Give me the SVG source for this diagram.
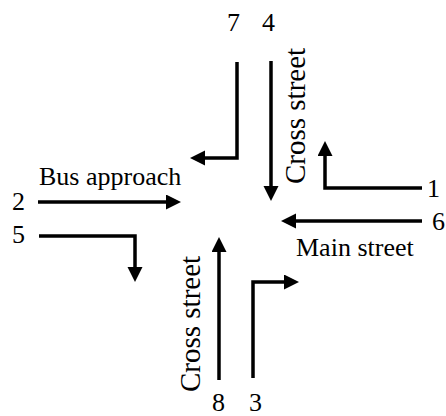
<svg xmlns="http://www.w3.org/2000/svg" width="446" height="416" viewBox="0 0 446 416">
<style>
.t{font-family:"Liberation Serif","Times New Roman",serif;font-size:26px;fill:#000}
.v{font-family:"Liberation Serif","Times New Roman",serif;font-size:29px;fill:#000}
.c{fill:none;stroke:#000;stroke-width:3.5;stroke-linejoin:miter}
</style>
<defs>
<marker id="ah" markerUnits="userSpaceOnUse" markerWidth="16" markerHeight="16" refX="1" refY="7.5" orient="auto" viewBox="0 0 16 16">
<path d="M0,0 L15,7.5 L0,15 z" fill="#000"/>
</marker>
</defs>
<rect width="446" height="416" fill="#fff"/>
<g id="connectors">
<polyline id="a1" class="c" points="422,188 325,188 325,155" marker-end="url(#ah)"/>
<polyline id="a7" class="c" points="237,62 237,158 204,158" marker-end="url(#ah)"/>
<line id="a4" class="c" x1="271" y1="61" x2="271" y2="187" marker-end="url(#ah)"/>
<line id="a2" class="c" x1="38" y1="202" x2="167" y2="202" marker-end="url(#ah)"/>
<polyline id="a5" class="c" points="39,236 135,236 135,268" marker-end="url(#ah)"/>
<line id="a6" class="c" x1="422" y1="221" x2="295" y2="221" marker-end="url(#ah)"/>
<line id="a8" class="c" x1="219" y1="380" x2="219" y2="251" marker-end="url(#ah)"/>
<polyline id="a3" class="c" points="253,378 253,282 285,282" marker-end="url(#ah)"/>
</g>
<g id="labels">
<text class="t" x="227" y="31">7</text>
<text class="t" x="262" y="31">4</text>
<text class="t" x="427" y="197">1</text>
<text class="t" x="432" y="230">6</text>
<text class="t" x="12" y="210">2</text>
<text class="t" x="12" y="243">5</text>
<text class="t" x="212" y="411">8</text>
<text class="t" x="249" y="411">3</text>
<text id="bus" class="t" x="39" y="185">Bus approach</text>
<text id="main" class="t" x="296" y="256">Main street</text>
<text id="cross-n" class="v" transform="translate(305,184) rotate(-90)">Cross street</text>
<text id="cross-s" class="v" transform="translate(200,392) rotate(-90)">Cross street</text>
</g>
</svg>
